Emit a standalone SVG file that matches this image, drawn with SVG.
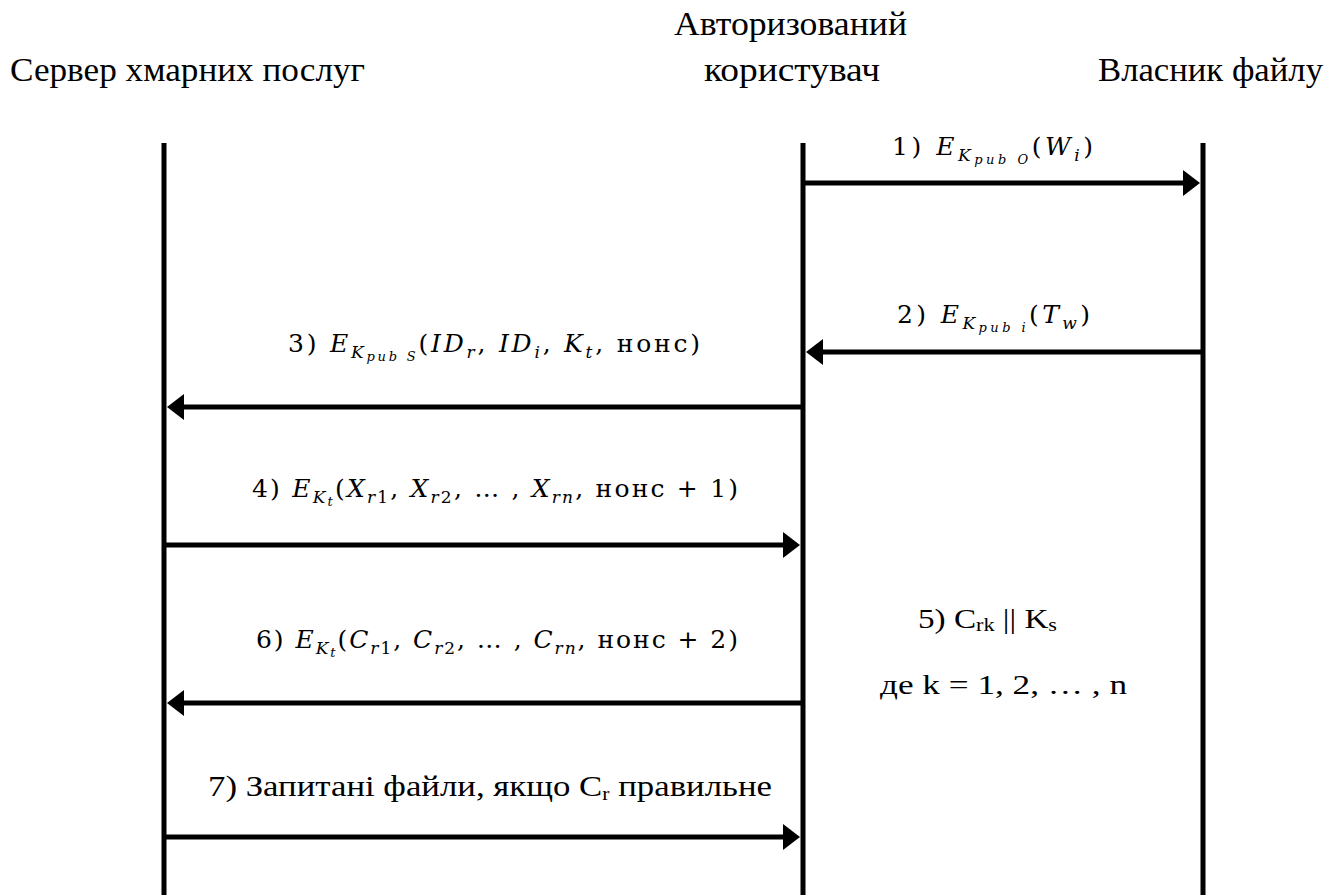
<svg xmlns="http://www.w3.org/2000/svg" width="1339" height="895" viewBox="0 0 1339 895">
<style>
  .life{stroke:#000;stroke-width:5;fill:none}
  .msg{stroke:#000;stroke-width:5;fill:none}
  .i{font-style:italic}
  .s1{font-size:17px}
  .s2{font-size:13px}
</style>
<defs>
  <path id="ah" d="M0,-13 L17,0 L0,13 Z" fill="#000"/>
</defs>
<rect x="0" y="0" width="1339" height="895" fill="#fff"/>

<g id="server">
  <text x="10" y="81" font-family="Liberation Serif" font-size="33" textLength="355" lengthAdjust="spacingAndGlyphs">Сервер хмарних послуг</text>
</g>
<g id="server-lifeline">
  <line class="life" x1="164" y1="143" x2="164" y2="895"/>
</g>
<g id="user">
  <g id="user-label">
  <text x="674" y="35" font-family="Liberation Serif" font-size="33" textLength="233" lengthAdjust="spacingAndGlyphs">Авторизований</text>
  <text x="704" y="81" font-family="Liberation Serif" font-size="33" textLength="176" lengthAdjust="spacingAndGlyphs">користувач</text>
  </g>
  <line class="life" x1="803" y1="143" x2="803" y2="895"/>
</g>
<g id="owner">
  <text x="1098" y="81" font-family="Liberation Serif" font-size="33" textLength="225" lengthAdjust="spacingAndGlyphs">Власник файлу</text>
  <line class="life" x1="1203" y1="143" x2="1203" y2="895"/>
</g>

<g id="connectors">
  <line class="msg" x1="803" y1="183" x2="1186" y2="183"/>
  <use href="#ah" transform="translate(1183,183)"/>
  <line class="msg" x1="1203" y1="352" x2="820" y2="352"/>
  <use href="#ah" transform="translate(823,352) scale(-1,1)"/>
  <line class="msg" x1="803" y1="407" x2="181" y2="407"/>
  <use href="#ah" transform="translate(184,407) scale(-1,1)"/>
  <line class="msg" x1="164" y1="545" x2="786" y2="545"/>
  <use href="#ah" transform="translate(783,545)"/>
  <line class="msg" x1="803" y1="703" x2="181" y2="703"/>
  <use href="#ah" transform="translate(184,703) scale(-1,1)"/>
  <line class="msg" x1="164" y1="837" x2="786" y2="837"/>
  <use href="#ah" transform="translate(783,837)"/>
  <text x="208" y="796" font-family="Liberation Serif" font-size="29" textLength="564" lengthAdjust="spacingAndGlyphs">7) Запитані файли, якщо C<tspan font-size="18" dy="4">r</tspan><tspan dy="-4"> правильне</tspan></text>
</g>

<g id="labels">
  <text x="892" y="155" font-family="DejaVu Serif" font-size="25" textLength="201" lengthAdjust="spacing">1) <tspan class="i">E</tspan><tspan class="i s1" dy="6">K</tspan><tspan class="i s2" dy="3">pub O</tspan><tspan dy="-9">(</tspan><tspan class="i">W</tspan><tspan class="i s1" dy="6">i</tspan><tspan dy="-6">)</tspan></text>

  <text x="897" y="323" font-family="DejaVu Serif" font-size="25" textLength="193" lengthAdjust="spacing">2) <tspan class="i">E</tspan><tspan class="i s1" dy="6">K</tspan><tspan class="i s2" dy="3">pub i</tspan><tspan dy="-9">(</tspan><tspan class="i">T</tspan><tspan class="i s1" dy="6">w</tspan><tspan dy="-6">)</tspan></text>

  <text x="288" y="352" font-family="DejaVu Serif" font-size="25" textLength="412" lengthAdjust="spacing">3) <tspan class="i">E</tspan><tspan class="i s1" dy="6">K</tspan><tspan class="i s2" dy="3">pub S</tspan><tspan dy="-9">(</tspan><tspan class="i">ID</tspan><tspan class="i s1" dy="6">r</tspan><tspan dy="-6">, </tspan><tspan class="i">ID</tspan><tspan class="i s1" dy="6">i</tspan><tspan dy="-6">, </tspan><tspan class="i">K</tspan><tspan class="i s1" dy="6">t</tspan><tspan dy="-6">, нонс)</tspan></text>

  <text x="252" y="497" font-family="DejaVu Serif" font-size="25" textLength="486" lengthAdjust="spacing">4) <tspan class="i">E</tspan><tspan class="i s1" dy="6">K</tspan><tspan class="i s2" dy="3">t</tspan><tspan dy="-9">(</tspan><tspan class="i">X</tspan><tspan class="s1" dy="6"><tspan class="i">r</tspan>1</tspan><tspan dy="-6">, </tspan><tspan class="i">X</tspan><tspan class="s1" dy="6"><tspan class="i">r</tspan>2</tspan><tspan dy="-6">, … , </tspan><tspan class="i">X</tspan><tspan class="i s1" dy="6">rn</tspan><tspan dy="-6">, нонс + 1)</tspan></text>

  <text x="256" y="648" font-family="DejaVu Serif" font-size="25" textLength="482" lengthAdjust="spacing">6) <tspan class="i">E</tspan><tspan class="i s1" dy="6">K</tspan><tspan class="i s2" dy="3">t</tspan><tspan dy="-9">(</tspan><tspan class="i">C</tspan><tspan class="s1" dy="6"><tspan class="i">r</tspan>1</tspan><tspan dy="-6">, </tspan><tspan class="i">C</tspan><tspan class="s1" dy="6"><tspan class="i">r</tspan>2</tspan><tspan dy="-6">, … , </tspan><tspan class="i">C</tspan><tspan class="i s1" dy="6">rn</tspan><tspan dy="-6">, нонс + 2)</tspan></text>
</g>

<g id="note5">
  <text x="918" y="628" font-family="Liberation Serif" font-size="27" textLength="139" lengthAdjust="spacingAndGlyphs">5) C<tspan font-size="18" dy="3">rk</tspan><tspan dy="-3"> || K</tspan><tspan font-size="18" dy="3">s</tspan></text>
  <text x="880" y="694" font-family="Liberation Serif" font-size="27" textLength="247" lengthAdjust="spacingAndGlyphs">де k = 1, 2, … , n</text>
</g>
</svg>
